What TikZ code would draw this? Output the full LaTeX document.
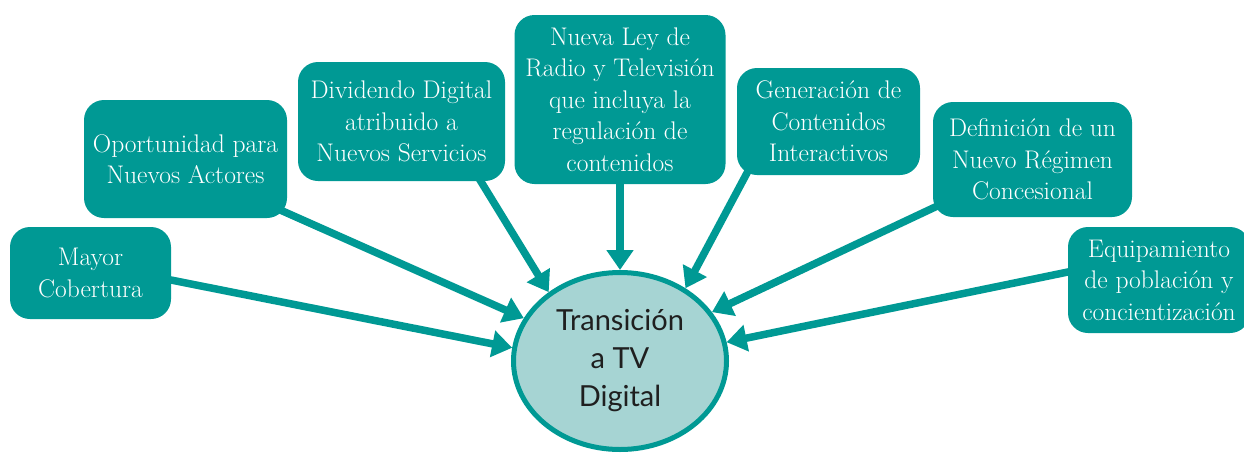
\documentclass[tikz,border=0pt]{standalone}
\usepackage{fontspec}
\newfontfamily\tvfont{Lato}
\usetikzlibrary{arrows.meta, shapes.geometric}
\definecolor{tvteal}{RGB}{0,153,148}
\definecolor{tvlight}{RGB}{166,212,211}
\tikzset{caja/.style={
    fill=tvteal, rounded corners=20pt, text=white, align=center,
    inner sep=0pt, font=\fontsize{25.5}{31.5}\selectfont
    },
    flecha/.style={
    draw=tvteal, line width=7.5pt, shorten <=-10pt
    }
}

\begin{document}
\begin{tikzpicture}[x=1pt, y=-1pt, >={Triangle[length=20pt,width=26pt]}]
        \useasboundingbox (0, 0) rectangle (1244, 453);

        \node[caja, minimum width=161pt, minimum height=92pt] (mayor) at (90.5, 273) {Mayor\\Cobertura};
        \node[caja, minimum width=203pt, minimum height=118pt] (oport) at (185.5, 159) {Oportunidad para\\Nuevos Actores};
        \node[caja, minimum width=207pt, minimum height=119pt] (divid) at (401.5, 121.5) {Dividendo Digital\\atribuido a\\Nuevos Servicios};
        \node[caja, minimum width=211pt, minimum height=169pt] (ley) at (620, 99.5) {Nueva Ley de\\Radio y Televisión\\que incluya la\\regulación de\\contenidos};
        \node[caja, minimum width=183pt, minimum height=107pt] (gener) at (828.5, 121.5) {Generación de\\Contenidos\\Interactivos};
        \node[caja, minimum width=199pt, minimum height=115pt] (defin) at (1032.5, 159.5) {Definición de un\\Nuevo Régimen\\Concesional};
        \node[caja, minimum width=182pt, minimum height=106pt] (equip) at (1159, 280) {Equipamiento\\de población y\\concientización};

        \node[ellipse, draw=tvteal, line width=5pt, fill=tvlight, minimum width=213pt, minimum height=177pt,
              inner sep=0pt, align=center, text=black!88, font=\tvfont\fontsize{29}{38}\selectfont] (tv) at (620, 361) {Transición\\a TV\\Digital};

        \draw[flecha, ->] (mayor.-5) -- (tv.173);
        \draw[flecha, ->] (oport.-28) -- (tv.156);
        \draw[flecha, ->] (divid.-37) -- (tv.136);
        \draw[flecha, ->] (ley.south) -- (tv.north);
        \draw[flecha, ->] (gener.213) -- (tv.48);
        \draw[flecha, ->] (defin.206) -- (tv.28);
        \draw[flecha, ->] (equip.175) -- (tv.10);
    \end{tikzpicture}
\end{document}
